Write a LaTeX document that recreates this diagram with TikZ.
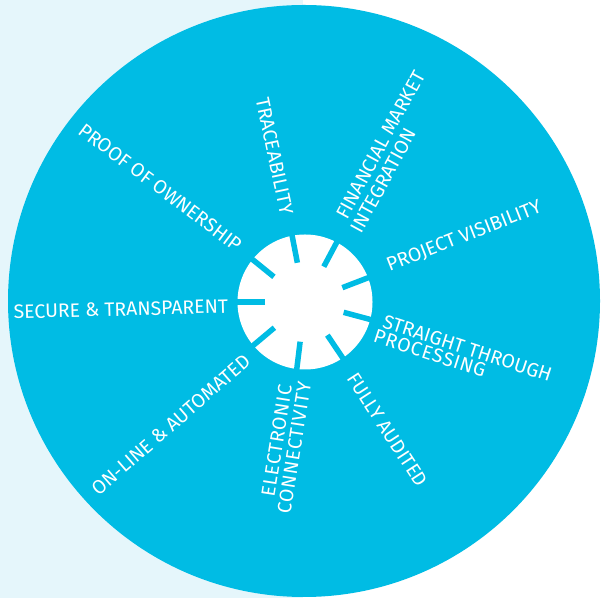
\documentclass[tikz,border=0pt]{standalone}
\usepackage{fontspec}
\setmainfont{Fira Sans}
\newfontfamily\widefont{Fira Sans}[LetterSpace=4]
\usetikzlibrary{calc}
\definecolor{cyanbg}{RGB}{0,188,228}
\definecolor{palebg}{RGB}{229,246,251}
\begin{document}
\begin{tikzpicture}[x=1bp,y=1bp,
  lbl/.style={text=white, inner sep=0pt, font=\fontsize{19.5}{21}\selectfont},
  wlbl/.style={lbl, font=\fontsize{19.5}{21}\widefont},
  tickbar/.style={draw=cyanbg, line width=5.5bp}]
\useasboundingbox (0,0) rectangle (601,598);
\fill[white] (0,0) rectangle (601,598);
\fill[palebg] (0,0) rectangle (303,598);
\fill[cyanbg] (304,297) circle[radius=296];
\coordinate (c) at (305,296);
\fill[white] (c) circle[radius=67.5];
\foreach \a in {101,62,21,-15,-56,-97,-140,180,141}
  \draw[tickbar] ($(c)+(\a:40)$) -- ($(c)+(\a:75)$);
\node[lbl, rotate=-78] (trace) at (274.5,442) {TRACEABILITY};
\node[lbl, rotate=61.5] (fin1) at (380.7,453) {FINANCIAL MARKET};
\node[lbl, rotate=61.5] (fin2) at (383.3,417.5) {INTEGRATION};
\node[lbl, rotate=21.4] (proj) at (464.2,361.3) {PROJECT VISIBILITY};
\node[lbl, rotate=-18] (stp1) at (467.5,249.7) {STRAIGHT THROUGH};
\node[wlbl, rotate=-18] (stp2) at (430,244.7) {PROCESSING};
\node[lbl, rotate=-57] (audit) at (387.5,168) {FULLY AUDITED};
\node[wlbl, rotate=81] (elec1) at (276.7,157.2) {ELECTRONIC};
\node[wlbl, rotate=81] (elec2) at (294.2,150.5) {CONNECTIVITY};
\node[lbl, rotate=41] (online) at (170.8,173) {ON-LINE \& AUTOMATED};
\node[lbl, rotate=1.5] (secure) at (120.8,288.8) {SECURE \& TRANSPARENT};
\node[lbl, rotate=-37] (proof) at (160,410.5) {PROOF OF OWNERSHIP};
\end{tikzpicture}
\end{document}
